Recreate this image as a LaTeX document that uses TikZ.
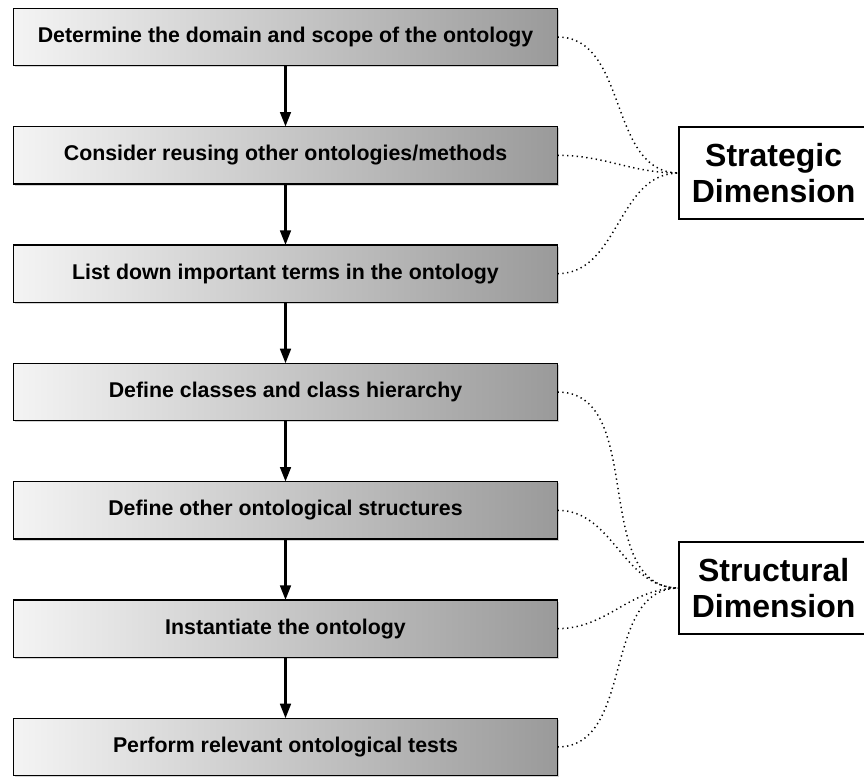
\documentclass[tikz,border=0pt]{standalone}
\usepackage{fontspec}
\setmainfont{Liberation Sans}
\usetikzlibrary{arrows.meta,positioning,shadows}
\definecolor{boxlight}{HTML}{F4F4F4}
\definecolor{boxmid}{HTML}{D6D6D6}
\definecolor{boxdark}{HTML}{9A9A9A}

\begin{document}
\begin{tikzpicture}[
x=0.75pt,y=0.75pt,
every node/.style={font=\bfseries},
stepbox/.style={draw=black,line width=1.2pt,minimum width=408pt,minimum height=43pt,inner sep=0pt,outer sep=0pt,
  left color=boxlight,middle color=boxmid,right color=boxdark,
  drop shadow={shadow xshift=1.2pt,shadow yshift=-1.2pt,opacity=0.35},
  font=\fontsize{16}{19}\selectfont\bfseries},
dimbox/.style={draw=black,line width=1pt,fill=white,minimum width=142pt,minimum height=69pt,align=center,inner sep=0pt,
  outer sep=0pt,font=\fontsize{24}{27}\selectfont\bfseries},
arr/.style={-{Triangle[length=11pt,width=8pt]},line width=2pt},
dotlink/.style={dash pattern=on 1pt off 2.6pt,line width=1.1pt}
]
\useasboundingbox (0,0) rectangle (864,-776);

% steps
\node[stepbox] (domain) at (285.5,-37) {Determine the domain and scope of the ontology};
\node[stepbox,below=45.75pt of domain] (reuse)   {Consider reusing other ontologies/methods};
\node[stepbox,below=45.75pt of reuse]  (terms)   {List down important terms in the ontology};
\node[stepbox,below=45.75pt of terms]  (classes) {Define classes and class hierarchy};
\node[stepbox,below=45.75pt of classes] (struct) {Define other ontological structures};
\node[stepbox,below=45.75pt of struct] (inst)    {Instantiate the ontology};
\node[stepbox,below=45.75pt of inst]   (tests)   {Perform relevant ontological tests};

% dimensions
\node[dimbox,anchor=west] (strat) at (679,-173) {Strategic\\Dimension};
\node[dimbox,anchor=west] (structdim) at (679,-588) {Structural\\Dimension};

\draw[arr] (domain) -- (reuse);
\draw[arr] (reuse) -- (terms);
\draw[arr] (terms) -- (classes);
\draw[arr] (classes) -- (struct);
\draw[arr] (struct) -- (inst);
\draw[arr] (inst) -- (tests);

\foreach \s in {domain,reuse,terms}
  \draw[dotlink] (\s.east) to[out=0,in=180] (strat.west);
\foreach \s in {classes,struct,inst,tests}
  \draw[dotlink] (\s.east) to[out=0,in=180] (structdim.west);
\end{tikzpicture}
\end{document}
